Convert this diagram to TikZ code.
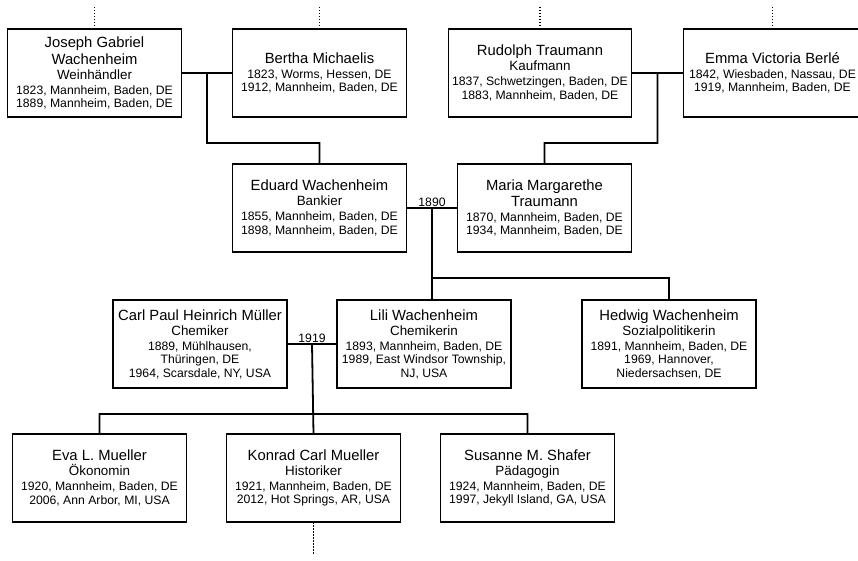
\documentclass[tikz,border=0pt]{standalone}
\usepackage{fontspec}
\setmainfont{Liberation Sans}
\usepackage{tikz}
\usetikzlibrary{positioning, calc}
\newcommand{\pname}{\fontsize{14.8}{16}\selectfont}
\newcommand{\pjob}{\fontsize{13.4}{14.5}\selectfont}
\newcommand{\pdetail}{\fontsize{12.2}{13.5}\selectfont}

\begin{document}
\begin{tikzpicture}[
    x = 1pt, y = -1pt,
    node distance = 47pt and 51pt,
    person/.style = {rectangle, draw, line width=1.8pt, minimum width=174pt,
      minimum height=88pt, inner sep=1pt, outer sep=0pt, align=center},
    linie/.style = {black, line width=1.8pt},
    ahne/.style = {black, line width=1.8pt, dash pattern=on 1.5pt off 1.5pt},
    jahr/.style = {inner sep=1.5pt},
    font=\pdetail
    ]
  \useasboundingbox (0,0) rectangle (858,560);

  % Grosseltern
  \node[person] (joseph) at (94.5,73) {{\pname Joseph Gabriel}\\[2.5pt]
    {\pname Wachenheim}\\[1.5pt] {\pjob Weinhändler}\\[1.5pt]
    1823, Mannheim, Baden, DE\\ 1889, Mannheim, Baden, DE} ;
  \node[person] (bertha) [right=of joseph] {{\pname Bertha Michaelis}\\[1.5pt]
    1823, Worms, Hessen, DE\\ 1912, Mannheim, Baden, DE} ;
  \node[person, minimum width=183pt] (rudolph) [right=42pt of bertha]
    {{\pname Rudolph Traumann}\\[1.5pt] {\pjob Kaufmann}\\[1.5pt]
    1837, Schwetzingen, Baden, DE\\ 1883, Mannheim, Baden, DE} ;
  \node[person, minimum width=178pt] (emma) [right=52pt of rudolph]
    {{\pname Emma Victoria Berlé}\\[1.5pt]
    1842, Wiesbaden, Nassau, DE\\ 1919, Mannheim, Baden, DE} ;

  % Eltern
  \node[person] (eduard) [below=of bertha] {{\pname Eduard Wachenheim}\\[1.5pt]
    {\pjob Bankier}\\[1.5pt]
    1855, Mannheim, Baden, DE\\ 1898, Mannheim, Baden, DE} ;
  \node[person] (maria) [right=of eduard] {{\pname Maria Margarethe}\\[2.5pt]
    {\pname Traumann}\\[1.5pt]
    1870, Mannheim, Baden, DE\\ 1934, Mannheim, Baden, DE} ;

  % Kinder
  \node[person] (lili) at (424,344) {{\pname Lili Wachenheim}\\[1.5pt]
    {\pjob Chemikerin}\\[1.5pt]
    1893, Mannheim, Baden, DE\\ 1989, East Windsor Township,\\ NJ, USA} ;
  \node[person] (carl) [left=50pt of lili] {{\pname Carl Paul Heinrich Müller}\\[1.5pt]
    {\pjob Chemiker}\\[1.5pt]
    1889, Mühlhausen,\\ Thüringen, DE\\ 1964, Scarsdale, NY, USA} ;
  \node[person] (hedwig) [right=71pt of lili] {{\pname Hedwig Wachenheim}\\[1.5pt]
    {\pjob Sozialpolitikerin}\\[1.5pt]
    1891, Mannheim, Baden, DE\\ 1969, Hannover,\\ Niedersachsen, DE} ;

  % Enkel
  \node[person] (konrad) at (313.5,478) {{\pname Konrad Carl Mueller}\\[1.5pt]
    {\pjob Historiker}\\[1.5pt]
    1921, Mannheim, Baden, DE\\ 2012, Hot Springs, AR, USA} ;
  \node[person] (eva) [left=40pt of konrad] {{\pname Eva L. Mueller}\\[1.5pt]
    {\pjob Ökonomin}\\[1.5pt]
    1920, Mannheim, Baden, DE\\ 2006, Ann Arbor, MI, USA} ;
  \node[person] (susanne) [right=40pt of konrad] {{\pname Susanne M. Shafer}\\[1.5pt]
    {\pjob Pädagogin}\\[1.5pt]
    1924, Mannheim, Baden, DE\\ 1997, Jekyll Island, GA, USA} ;

  \coordinate (jb) at ($(joseph.east)!.5!(bertha.west)$) ;
  \coordinate (re) at ($(rudolph.east)!.5!(emma.west)$) ;
  \coordinate (em) at ($(eduard.east)!.5!(maria.west)$) ;
  \coordinate (cl) at ($(carl.east)!.5!(lili.west)$) ;
  \coordinate (emkind) at ($(em)+(0,70)$) ;
  \coordinate (clkind) at ($(cl)+(0,70)$) ;

  \node[jahr, above] (heirat1) at (em) {1890} ;
  \node[jahr, above] (heirat2) at (cl) {1919} ;

  \draw[linie]
  (joseph) -- (bertha)
  (jb) -- ++(0,70) -| (eduard.north)
  (rudolph) -- (emma)
  (re) -- ++(0,70) -| (maria.north)

  (eduard) -- (maria)
  (em) -- (em |- lili.north)
  (emkind) -| (hedwig.north)

  (carl) -- (lili)
  (cl) -- (konrad.north)
  (eva.north) |- (clkind) -| (susanne.north);

  \draw[ahne]
  (joseph.north) -- ++(0,-22)
  (bertha.north) -- ++(0,-22)
  (rudolph.north) -- ++(0,-22)
  (emma.north) -- ++(0,-22)
  (konrad.south) -- ++(0,32);
\end{tikzpicture}
\end{document}
